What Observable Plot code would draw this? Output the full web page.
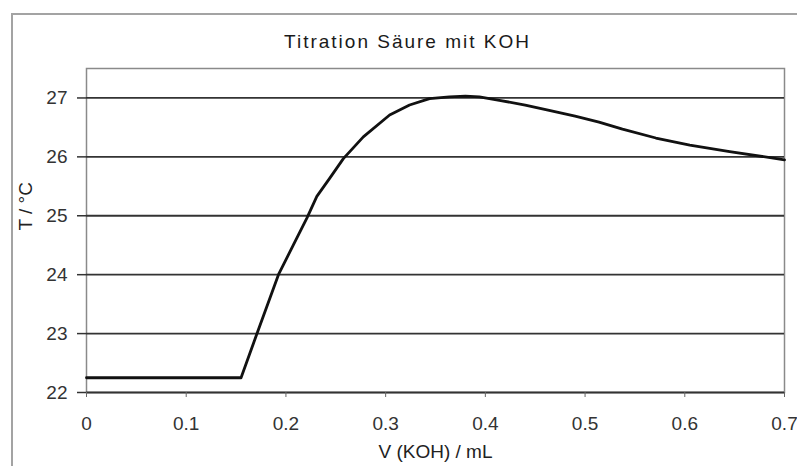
<!DOCTYPE html>
<html>
<head>
<meta charset="utf-8">
<script src="https://cdn.jsdelivr.net/npm/d3@7"></script>
<script src="https://cdn.jsdelivr.net/npm/@observablehq/plot@0.6"></script>
<style>
  html, body { margin: 0; padding: 0; background: #fff; overflow: hidden; }
  #chart { position: relative; width: 797px; height: 466px; overflow: hidden;
           font-family: "Liberation Sans", Arial, sans-serif; }
  #border { position: absolute; left: 11px; top: 13px; width: 900px; height: 600px;
            border: 2px solid #a3a3a3; box-sizing: border-box; z-index: 2; pointer-events: none; }
  #title { position: relative; height: 60px; width: 815px; text-align: center;
           font-size: 19px; line-height: 84px; color: #1a1a1a; letter-spacing: 2px; }
  #plot { position: relative; }
  #plot svg { background: transparent; }
</style>
</head>
<body>
<div id="chart">
  <div id="border"></div>
  <div id="title">Titration Säure mit KOH</div>
  <div id="plot"></div>
</div>
<script>
// Volume of KOH added (mL) and measured temperature (°C)
const volume = [0, 0.155, 0.171, 0.1925, 0.2076, 0.221, 0.231, 0.244, 0.2576, 0.2776,
                0.304, 0.324, 0.344, 0.364, 0.38, 0.394, 0.414, 0.44, 0.464, 0.49, 0.514,
                0.5375, 0.571, 0.605, 0.645, 0.7];
const temperature = [22.25, 22.25, 23.0, 24.0, 24.51, 24.96, 25.33, 25.64, 25.97, 26.34,
                     26.71, 26.88, 26.99, 27.02, 27.03, 27.02, 26.96, 26.88, 26.79, 26.69, 26.59,
                     26.47, 26.32, 26.2, 26.09, 25.95];
const xTicks = [0, 0.1, 0.2, 0.3, 0.4, 0.5, 0.6, 0.7];
const yTicks = [22, 23, 24, 25, 26, 27];
const xLabel = "V (KOH) / mL";
const yLabel = "T / °C";

const data = volume.map((v, i) => ({v, t: temperature[i]}));
const plain = d => String(d);

const chart = Plot.plot({
  width: 797,
  height: 406,
  marginTop: 8,
  marginLeft: 86,
  marginRight: 13,
  marginBottom: 74,
  style: {fontFamily: "Liberation Sans, Arial, sans-serif", background: "transparent"},
  x: {domain: [0, 0.7]},
  y: {domain: [22, 27.5]},
  marks: [
    Plot.frame({stroke: "#8a8a8a", strokeWidth: 1.5}),
    Plot.ruleY(yTicks, {stroke: "#333", strokeWidth: 1.8}),
    Plot.axisY(yTicks, {tickSize: 9, tickPadding: 10, fontSize: 19, fill: "#333",
                        stroke: "#333", strokeWidth: 1.5, label: null, tickFormat: plain}),
    Plot.axisX(xTicks, {tickSize: 5, tickPadding: 19, fontSize: 19, fill: "#333",
                        stroke: "#666", label: null, tickFormat: plain}),
    Plot.text([xLabel], {frameAnchor: "bottom", lineAnchor: "middle", dy: 59, fontSize: 19,
                         fill: "#222", letterSpacing: "1px"}),
    Plot.text([yLabel], {frameAnchor: "left", dx: -61, rotate: -90, fontSize: 19, fill: "#222",
                         letterSpacing: "1.5px"}),
    Plot.line(data, {x: "v", y: "t", stroke: "#111", strokeWidth: 2.8, strokeLinejoin: "round"})
  ]
});
document.getElementById("plot").appendChild(chart);
</script>
</body>
</html>
